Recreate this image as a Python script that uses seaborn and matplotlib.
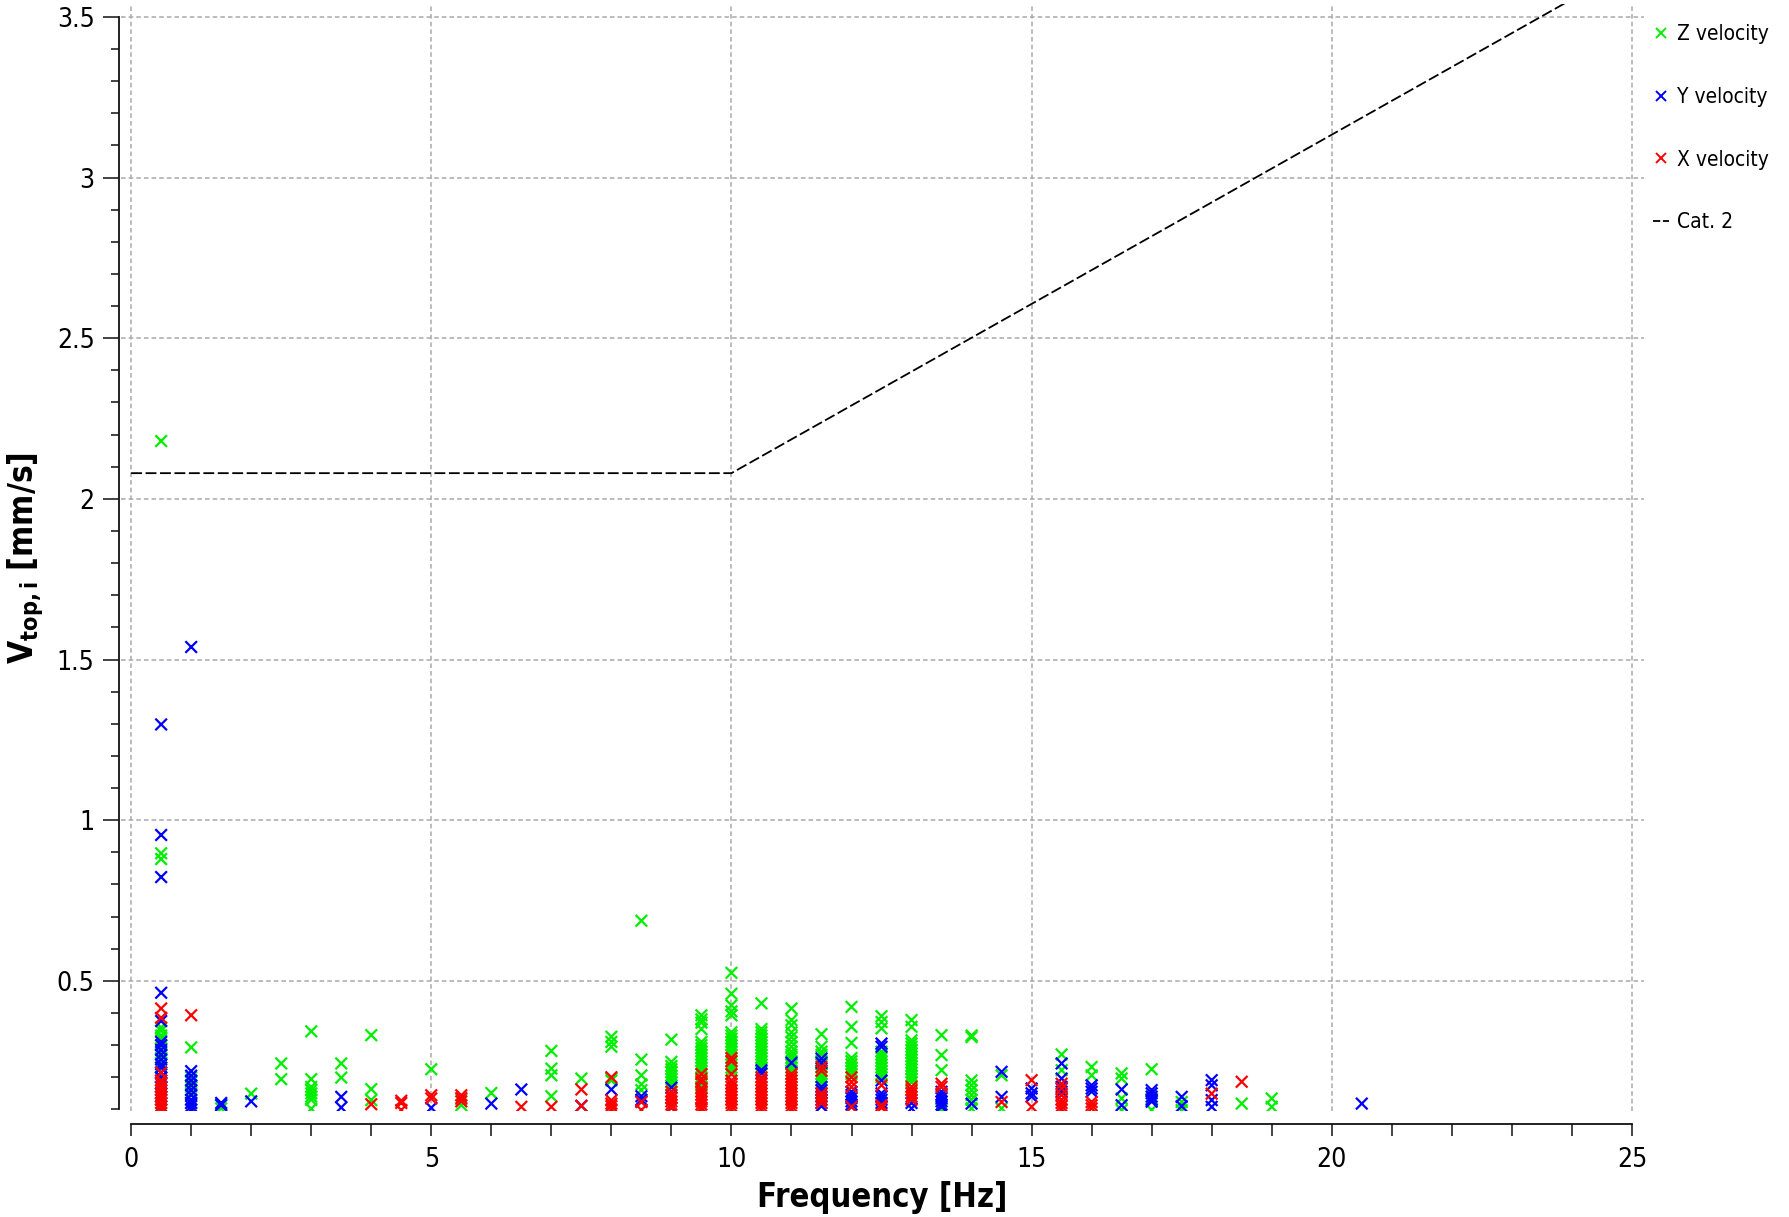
import numpy as np
import pandas as pd
import matplotlib
matplotlib.use("Agg")
import matplotlib.pyplot as plt
import seaborn as sns
from matplotlib import font_manager
from matplotlib.lines import Line2D
from matplotlib.ticker import FixedLocator, MultipleLocator, FuncFormatter

# ---------------- data ----------------
z_velocity = {
    0.5: [2.18, 0.897, 0.879, 0.355, 0.345, 0.33, 0.32, 0.30, 0.29, 0.275, 0.26, 0.245, 0.23, 0.20, 0.17, 0.14, 0.12],
    1.0: [0.293, 0.20, 0.185, 0.17, 0.15, 0.12],
    1.5: [0.115, 0.103],
    2.0: [0.149],
    2.5: [0.243, 0.194],
    3.0: [0.343, 0.194, 0.17, 0.16, 0.15, 0.14, 0.13, 0.102],
    3.5: [0.243, 0.199],
    4.0: [0.331, 0.163, 0.129],
    5.0: [0.225],
    5.5: [0.132, 0.113],
    6.0: [0.151],
    7.0: [0.282, 0.227, 0.206, 0.141],
    7.5: [0.196],
    8.0: [0.326, 0.31, 0.295, 0.196, 0.19],
    8.5: [0.687, 0.255, 0.206, 0.178, 0.16],
    9.0: [0.317, 0.248, 0.235, 0.225, 0.215, 0.205, 0.195, 0.185, 0.175],
    9.5: [0.393, 0.38, 0.37, 0.35, 0.31, 0.30, 0.29, 0.28, 0.27, 0.26, 0.25, 0.24, 0.23, 0.22, 0.21, 0.20, 0.19, 0.18, 0.17],
    10.0: [0.525, 0.46, 0.424, 0.405, 0.393, 0.34, 0.33, 0.32, 0.31, 0.30, 0.29, 0.28, 0.27, 0.25, 0.24, 0.23, 0.22],
    10.5: [0.43, 0.35, 0.34, 0.33, 0.32, 0.31, 0.30, 0.29, 0.28, 0.27, 0.26, 0.25, 0.24, 0.23],
    11.0: [0.414, 0.378, 0.362, 0.34, 0.325, 0.31, 0.295, 0.28, 0.27, 0.26, 0.25, 0.24, 0.23, 0.22, 0.10],
    11.5: [0.334, 0.295, 0.28, 0.27, 0.25, 0.24, 0.22, 0.21, 0.20, 0.19, 0.18],
    12.0: [0.419, 0.357, 0.307, 0.26, 0.25, 0.24, 0.23, 0.22, 0.21],
    12.5: [0.39, 0.372, 0.352, 0.28, 0.27, 0.26, 0.25, 0.24, 0.23, 0.22, 0.21, 0.20],
    13.0: [0.378, 0.357, 0.315, 0.305, 0.295, 0.285, 0.275, 0.265, 0.255, 0.245, 0.235, 0.225, 0.215, 0.205, 0.195, 0.185],
    13.5: [0.331, 0.269, 0.222, 0.10],
    14.0: [0.33, 0.325, 0.19, 0.175, 0.16, 0.145, 0.13, 0.103],
    14.5: [0.206, 0.103],
    15.5: [0.271, 0.222],
    16.0: [0.232, 0.206],
    16.5: [0.212, 0.196, 0.134, 0.098],
    17.0: [0.225, 0.134, 0.098],
    17.5: [0.123, 0.098],
    18.5: [0.118],
    19.0: [0.134, 0.108],
}

y_velocity = {
    0.5: [1.298, 0.954, 0.823, 0.463, 0.375, 0.31, 0.30, 0.285, 0.27, 0.255, 0.24, 0.23, 0.215, 0.20, 0.19, 0.18, 0.17, 0.15, 0.13, 0.11],
    1.0: [1.539, 0.219, 0.205, 0.19, 0.175, 0.16, 0.145, 0.13, 0.12, 0.11, 0.10],
    1.5: [0.12, 0.113],
    2.0: [0.125],
    3.5: [0.139, 0.106],
    5.0: [0.105],
    6.0: [0.118],
    6.5: [0.162],
    7.5: [0.111],
    8.0: [0.162],
    8.5: [0.141, 0.13, 0.125],
    9.0: [0.168, 0.105],
    10.5: [0.222, 0.212],
    11.0: [0.245],
    11.5: [0.258, 0.245, 0.17, 0.16, 0.15, 0.14, 0.13, 0.12, 0.11],
    12.0: [0.155, 0.145, 0.135, 0.125, 0.115, 0.108],
    12.5: [0.305, 0.295, 0.19, 0.15, 0.14, 0.13, 0.12],
    13.0: [0.12, 0.103],
    13.5: [0.155, 0.145, 0.135, 0.125, 0.115, 0.108],
    14.0: [0.118],
    14.5: [0.217, 0.139],
    15.0: [0.165, 0.15, 0.14],
    15.5: [0.243, 0.196, 0.17, 0.155],
    16.0: [0.175, 0.165, 0.155],
    16.5: [0.162, 0.113],
    17.0: [0.16, 0.15, 0.14, 0.13, 0.124],
    17.5: [0.139, 0.11],
    18.0: [0.191, 0.175, 0.129, 0.108],
    20.5: [0.118],
}

x_velocity = {
    0.5: [0.414, 0.385, 0.214, 0.19, 0.18, 0.17, 0.16, 0.15, 0.14, 0.13, 0.12, 0.11, 0.10],
    1.0: [0.393],
    4.0: [0.116],
    4.5: [0.127, 0.12, 0.098],
    5.0: [0.144, 0.134],
    5.5: [0.144, 0.135, 0.125],
    6.5: [0.108],
    7.0: [0.108],
    7.5: [0.162, 0.111],
    8.0: [0.20, 0.128, 0.118, 0.11, 0.10],
    8.5: [0.123, 0.098],
    9.0: [0.155, 0.145, 0.135, 0.125, 0.115, 0.105],
    9.5: [0.21, 0.195, 0.185, 0.165, 0.155, 0.145, 0.135, 0.125, 0.115, 0.105, 0.10],
    10.0: [0.26, 0.25, 0.21, 0.19, 0.18, 0.17, 0.16, 0.15, 0.14, 0.13, 0.12, 0.11, 0.10],
    10.5: [0.20, 0.19, 0.18, 0.17, 0.16, 0.15, 0.14, 0.13, 0.12, 0.11, 0.10],
    11.0: [0.21, 0.20, 0.19, 0.18, 0.17, 0.16, 0.15, 0.14, 0.13, 0.12, 0.11, 0.10],
    11.5: [0.232, 0.22, 0.15, 0.14, 0.13, 0.12],
    12.0: [0.20, 0.185, 0.17, 0.108],
    12.5: [0.175, 0.113, 0.105],
    13.0: [0.17, 0.16, 0.15, 0.14, 0.13],
    13.5: [0.18, 0.17],
    14.5: [0.123],
    15.0: [0.191, 0.108],
    15.5: [0.18, 0.165, 0.145, 0.13, 0.12, 0.11, 0.10],
    16.0: [0.123, 0.113, 0.103],
    18.0: [0.149],
    18.5: [0.186],
}

cat2_freq = [0.0, 10.0, 25.0]
cat2_vel = [2.08, 2.08, 3.66]

series_names = ["Z velocity", "Y velocity", "X velocity"]
series_colors = ["#00ee00", "#0000ff", "#ff0000"]
x_ticks = [0, 5, 10, 15, 20, 25]
y_ticks = [0.5, 1, 1.5, 2, 2.5, 3, 3.5]

# ---------------- build table ----------------
rows = []
for name, d in zip(series_names, [z_velocity, y_velocity, x_velocity]):
    for f, vals in d.items():
        for v in vals:
            rows.append((f, v, name))
df = pd.DataFrame(rows, columns=["freq", "vel", "series"])

# ---------------- style ----------------
sns.set_theme(style="ticks")
fam = "DejaVu Sans"
condensed = any(f.name == "DejaVu Sans" and "condensed" in str(f.stretch).lower()
                for f in font_manager.fontManager.ttflist)
plt.rcParams["font.family"] = [fam]
if condensed:
    plt.rcParams["font.stretch"] = "condensed"
plt.rcParams["mathtext.fontset"] = "custom"
plt.rcParams["mathtext.rm"] = "DejaVu Sans"
plt.rcParams["mathtext.bf"] = "DejaVu Sans:bold"
plt.rcParams["text.color"] = "black"
plt.rcParams["axes.labelcolor"] = "black"
plt.rcParams["xtick.color"] = "black"
plt.rcParams["ytick.color"] = "black"

fig = plt.figure(figsize=(17.89, 12.17), dpi=100)
ax = fig.add_axes([0.0676, 0.0871, 0.8513, 0.9096])

palette = dict(zip(series_names, series_colors))
sns.scatterplot(data=df, x="freq", y="vel", hue="series", palette=palette,
                hue_order=series_names, marker="x", s=70, linewidth=1.6,
                legend=False, ax=ax, zorder=3)

sns.lineplot(x=cat2_freq, y=cat2_vel, ax=ax, color="black", lw=1.3,
             linestyle=(0, (6, 2)), zorder=4, sort=False)

ax.set_xlim(-0.17, 25.2)
ax.set_ylim(0.095, 3.54)

for s in ["top", "right"]:
    ax.spines[s].set_visible(False)
ax.spines["left"].set_position(("outward", 1.5))
ax.spines["bottom"].set_position(("outward", 9.5))
ax.spines["left"].set_bounds(0.1, 3.5)
ax.spines["bottom"].set_bounds(0, 25)
for s in ["left", "bottom"]:
    ax.spines[s].set_color("#111111")
    ax.spines[s].set_linewidth(1.3)

ax.xaxis.set_major_locator(FixedLocator(x_ticks))
ax.xaxis.set_minor_locator(MultipleLocator(1))
ax.yaxis.set_major_locator(FixedLocator(y_ticks))
ax.yaxis.set_minor_locator(MultipleLocator(0.1))
ax.yaxis.set_major_formatter(FuncFormatter(lambda v, p: f"{v:g}"))
ax.xaxis.set_major_formatter(FuncFormatter(lambda v, p: f"{v:g}"))

ax.tick_params(axis="x", which="both", direction="out", length=8.5, width=1.1,
               color="#111111", labelcolor="black", labelsize=19, pad=8)
ax.tick_params(axis="y", which="major", direction="out", length=11.5, width=1.1,
               color="#111111", labelcolor="black", labelsize=19, pad=6)
ax.tick_params(axis="y", which="minor", direction="out", length=6, width=1.1,
               color="#111111")

ax.grid(True, which="major", color="#aaaaaa", linestyle=(0, (3, 2)), linewidth=1.1)
ax.set_axisbelow(True)

ax.set_xlabel("Frequency [Hz]", fontsize=23.5, fontweight="bold", labelpad=6,
              color="black")
ax.set_ylabel(r"$\mathbf{V_{top,i}}$ [mm/s]", fontsize=24, fontweight="bold",
              labelpad=8, color="black")

handles = [Line2D([], [], marker="x", color=c, linestyle="none", markersize=7.5,
                  markeredgewidth=1.4) for c in series_colors]
handles.append(Line2D([], [], color="black", lw=1.3, linestyle=(0, (4, 1.5))))
labels = series_names + ["Cat. 2"]
fig.legend(handles, labels, loc="upper left", bbox_to_anchor=(0.924, 0.980),
           frameon=False, fontsize=15, handlelength=0.75, handletextpad=0.4,
           labelspacing=2.05, borderpad=0, borderaxespad=0)

fig.savefig("out.png", dpi=100)
